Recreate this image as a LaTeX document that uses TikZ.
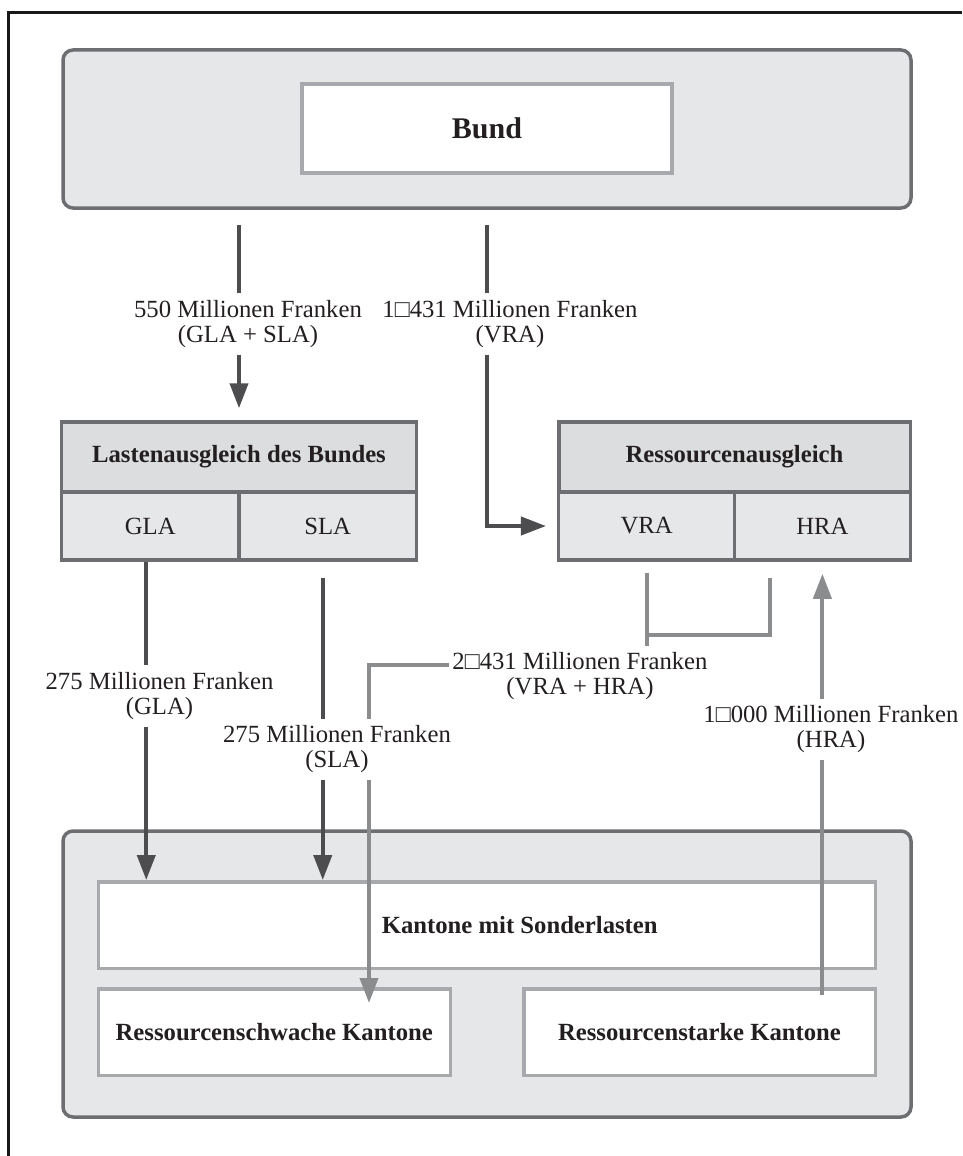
\documentclass[tikz,border=0pt]{standalone}
\usepackage{fontspec}
\setmainfont{Liberation Serif}
\usetikzlibrary{arrows.meta}
\definecolor{rand}{HTML}{6D6E71}
\definecolor{hellrand}{HTML}{A7A9AC}
\definecolor{flaeche}{HTML}{E6E7E8}
\definecolor{kopf}{HTML}{DCDDDE}
\definecolor{dunkel}{HTML}{4D4D4F}
\definecolor{hell}{HTML}{8B8C8E}
\definecolor{schrift}{HTML}{231F20}
\begin{document}
\begin{tikzpicture}[x=1pt, y=-1pt,
    every node/.style={font=\fontsize{24.7}{25}\selectfont, text=schrift, align=center},
    behaelter/.style={draw=rand, fill=flaeche, line width=3.5pt, rounded corners=10pt},
    kasten/.style={draw=hellrand, fill=white, line width=3.5pt, font=\fontsize{24.7}{25}\selectfont\bfseries},
    zelle/.style={draw=rand, fill=flaeche, line width=3.5pt},
    kopfzelle/.style={zelle, fill=kopf, font=\fontsize{24.7}{25}\selectfont\bfseries},
    betrag/.style={inner xsep=3pt, inner ysep=7pt},
    dunkelpfeil/.style={draw=dunkel, line width=4pt},
    hellpfeil/.style={draw=hell, line width=4pt},
    spitze/.style={-{Triangle[length=25pt,width=18pt]}}]
    \useasboundingbox (0,0) rectangle (962,1156);
    \draw[line width=3pt, black!90] (8,1156) -- (8,13) -- (962,13);

    % Bund
    \node[behaelter, minimum width=848pt, minimum height=158pt] (bundrahmen) at (487,129) {};
    \node[kasten, minimum width=370pt, minimum height=89pt, font=\fontsize{30}{30}\selectfont\bfseries] (bund) at (487,128.5) {Bund};

    % Lastenausgleich und Ressourcenausgleich
    \node[kopfzelle, minimum width=355pt, minimum height=70pt] (lastenkopf) at (239,457) {Lastenausgleich des Bundes};
    \node[zelle, minimum width=177.5pt, minimum height=68pt] (gla) at (150.25,526) {GLA};
    \node[zelle, minimum width=177.5pt, minimum height=68pt] (sla) at (327.75,526) {SLA};
    \node[kopfzelle, minimum width=351.5pt, minimum height=70pt] (ressourcenkopf) at (734.5,457) {Ressourcenausgleich};
    \node[zelle, minimum width=175.75pt, minimum height=68pt] (vra) at (646.6,526) {VRA};
    \node[zelle, minimum width=175.75pt, minimum height=68pt] (hra) at (822.4,526) {HRA};

    % Kantone
    \node[behaelter, minimum width=848pt, minimum height=286pt] (kantonerahmen) at (487,974) {};
    \node[kasten, minimum width=777pt, minimum height=86.5pt] (sonder) at (486.75,925) {\hspace*{66pt}Kantone mit Sonderlasten};
    \node[kasten, minimum width=352pt, minimum height=86.5pt] (schwach) at (274.25,1032) {Ressourcenschwache Kantone};
    \node[kasten, minimum width=351.5pt, minimum height=86.5pt] (stark) at (699.5,1032) {Ressourcenstarke Kantone};

    % Betraege
    \node[betrag] (lab550) at (248,324) {550 Millionen Franken\\(GLA + SLA)};
    \node[betrag] (lab1431) at (510,324) {1□431 Millionen Franken\\(VRA)};
    \node[betrag] (labGLA) at (159.5,696) {275 Millionen Franken\\(GLA)};
    \node[betrag] (labSLA) at (337,749.5) {275 Millionen Franken\\(SLA)};
    \node[betrag] (lab2431) at (580,676.5) {2□431 Millionen Franken\\(VRA + HRA)};
    \node[betrag] (lab1000) at (831,729.5) {1□000 Millionen Franken\\(HRA)};

    \coordinate (klammer) at (770,578);
    \coordinate (klammerecke) at (770,635);
    \coordinate (knick) at (369,665);

    % Bund -> Lastenausgleich / VRA
    \draw[dunkelpfeil, shorten <=15pt] (bundrahmen.south -| lastenkopf.north) -- (lastenkopf.north |- lab550.north);
    \draw[dunkelpfeil, spitze, shorten >=12pt] (lastenkopf.north |- lab550.south) -- (lastenkopf.north);
    \draw[dunkelpfeil, shorten <=15pt] (bundrahmen.south) -- (bundrahmen.south |- lab1431.north);
    \draw[dunkelpfeil, spitze, shorten >=11pt] (bundrahmen.south |- lab1431.south) |- (vra.west);

    % GLA und SLA -> Kantone mit Sonderlasten
    \draw[dunkelpfeil] ([xshift=-4pt]gla.south) -- ([xshift=-4pt]gla.south |- labGLA.north);
    \draw[dunkelpfeil, spitze] ([xshift=-4pt]gla.south |- labGLA.south) -- ([xshift=-4pt]gla.south |- sonder.north);
    \draw[dunkelpfeil, shorten <=16pt] ([xshift=-5pt]sla.south) -- ([xshift=-5pt]sla.south |- labSLA.north);
    \draw[dunkelpfeil, spitze] ([xshift=-5pt]sla.south |- labSLA.south) -- ([xshift=-5pt]sla.south |- sonder.north);

    % VRA + HRA -> Ressourcenschwache Kantone
    \draw[hellpfeil, shorten <=11pt] (vra.south) -- (vra.south |- lab2431.north);
    \draw[hellpfeil] (klammer) -- (klammerecke) -- (vra.south |- klammerecke);
    \draw[hellpfeil] (lab2431.west |- knick) -- (knick) -- (knick |- labSLA.north);
    \draw[hellpfeil, spitze, shorten >=-16pt] (knick |- labSLA.south) -- (knick |- schwach.north);

    % Ressourcenstarke Kantone -> HRA
    \draw[hellpfeil, shorten <=-8pt] (hra.south |- stark.north) -- (hra.south |- lab1000.south);
    \draw[hellpfeil, spitze, shorten >=12pt] (hra.south |- lab1000.north) -- (hra.south);
\end{tikzpicture}
\end{document}
